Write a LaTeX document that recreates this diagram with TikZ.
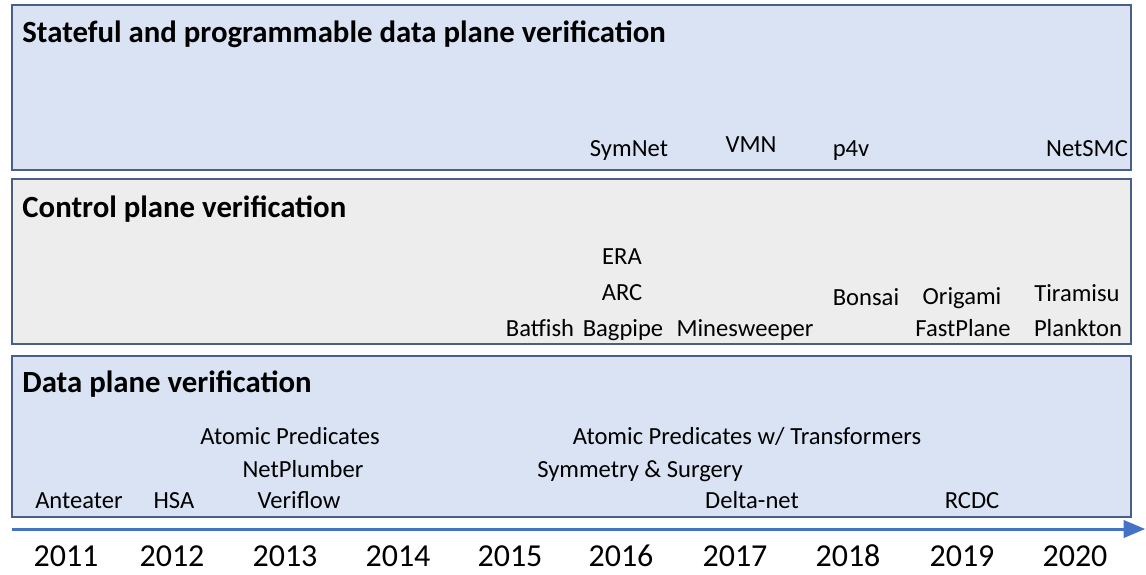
\documentclass[tikz,border=0pt]{standalone}
\usepackage{fontspec}
\setmainfont{Carlito}
\usepackage{tikz}
\usetikzlibrary{arrows}
\definecolor{lightblue}{HTML}{DAE3F3}
\definecolor{lightgray}{HTML}{EDEDED}
\definecolor{boxline}{HTML}{4A5F85}
\definecolor{axisblue}{HTML}{4472C4}

\begin{document}
\begin{tikzpicture}[x=0.5pt,y=-0.5pt]
						\tikzstyle{band}=[draw=boxline,line width=0.6pt]
						\tikzstyle{title}=[anchor=base west,inner sep=0pt,font=\fontsize{15.4}{17}\selectfont\bfseries]
						\tikzstyle{tool}=[anchor=base,inner sep=0pt,font=\fontsize{12.3}{14}\selectfont]
						\tikzstyle{year}=[anchor=base,inner sep=0pt,font=\fontsize{16}{18}\selectfont]
						\useasboundingbox (0,0) rectangle (1146,574);
						\draw[band,fill=lightblue] (12,5) rectangle (1131,170);
						\draw[band,fill=lightgray] (12,179) rectangle (1131,344);
						\draw[band,fill=lightblue] (12,356) rectangle (1131,517);
						\node[title] (stateful) at (22,42) {Stateful and programmable data plane verification};
						\node[title] (control) at (22,217) {Control plane verification};
						\node[title] (data) at (22,392) {Data plane verification};
						\node[tool] (symnet) at (629,156) {SymNet};
						\node[tool] (vmn) at (751,152) {VMN};
						\node[tool] (p4v) at (851,156) {p4v};
						\node[tool] (netsmc) at (1087,156) {NetSMC};
						\node[tool] (era) at (622,264) {ERA};
						\node[tool] (arc) at (622,300) {ARC};
						\node[tool] (bonsai) at (866,305) {Bonsai};
						\node[tool] (origami) at (962,304) {Origami};
						\node[tool] (tiramisu) at (1077,301) {Tiramisu};
						\node[tool] (batfish) at (540,336) {Batfish};
						\node[tool] (bagpipe) at (623,336) {Bagpipe};
						\node[tool] (minesweeper) at (745,336) {Minesweeper};
						\node[tool] (fastplane) at (963,336) {FastPlane};
						\node[tool] (plankton) at (1078,336) {Plankton};
						\node[tool] (ap) at (290,444) {Atomic Predicates};
						\node[tool] (apt) at (747,444) {Atomic Predicates w/ Transformers};
						\node[tool] (netplumber) at (303,477) {NetPlumber};
						\node[tool] (symsurg) at (640,477) {Symmetry \& Surgery};
						\node[tool] (anteater) at (79,508) {Anteater};
						\node[tool] (hsa) at (174,508) {HSA};
						\node[tool] (veriflow) at (299,508) {Veriflow};
						\node[tool] (deltanet) at (752,508) {Delta-net};
						\node[tool] (rcdc) at (972,508) {RCDC};
						\coordinate (ta) at (12,529);
						\coordinate (tb) at (1145,529);
						\draw[axisblue,line width=1.5pt,-triangle 45] (ta) -- (tb);
						\foreach \yr/\xx in {2011/66,2012/172,2013/285,2014/398,2015/510,2016/621,2017/735,2018/848,2019/962,2020/1075}
							\node[year] (y\yr) at (\xx,566) {\yr};
\end{tikzpicture}
\end{document}
